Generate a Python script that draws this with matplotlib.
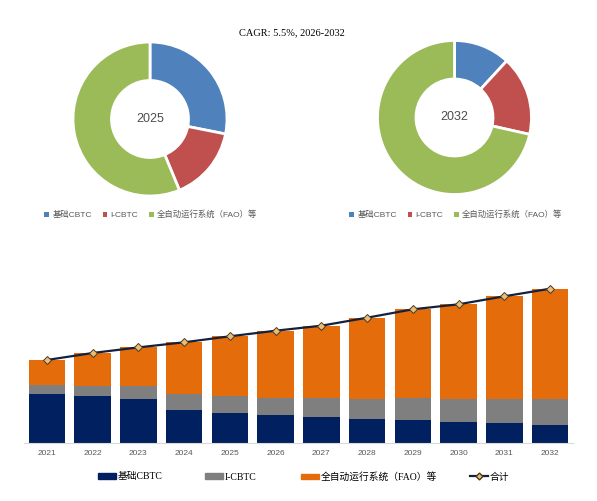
import matplotlib.pyplot as plt
from matplotlib.lines import Line2D
from matplotlib.patches import Patch

plt.rcParams['font.family'] = ['Liberation Sans', 'Noto Sans CJK SC']

years = ['2021', '2022', '2023', '2024', '2025', '2026',
         '2027', '2028', '2029', '2030', '2031', '2032']
base_cbtc = [49, 46.6, 44, 33, 30, 28.3, 26.3, 24.3, 23.3, 21.3, 20.3, 18.3]
i_cbtc = [9, 10.4, 13, 16, 16.7, 16.7, 18.7, 19.7, 21.7, 22.7, 23.7, 25.7]
fao = [25, 33, 38.6, 51.7, 60, 67.3, 72.3, 81.3, 88.7, 94.7, 102.7, 110.3]
total = [a + b + c for a, b, c in zip(base_cbtc, i_cbtc, fao)]

names = ['基础CBTC', 'I-CBTC', '全自动运行系统（FAO）等']
pie_colors = ['#4f81bd', '#c0504d', '#9bbb59']
bar_colors = ['#002060', '#7f7f7f', '#e46c0a']

W, H = 597, 501
fig = plt.figure(figsize=(W / 100, H / 100), dpi=100)

# two doughnuts: 2025 and 2032
for yr, cx, cy, lx in [('2025', 150, 119, 151), ('2032', 454.5, 117.5, 456)]:
    i = years.index(yr)
    r = 77
    ax = fig.add_axes([(cx - r) / W, 1 - (cy + r) / H, 2 * r / W, 2 * r / H])
    ax.pie([base_cbtc[i], i_cbtc[i], fao[i]], colors=pie_colors,
           startangle=90, counterclock=False, radius=1,
           wedgeprops=dict(width=0.5, edgecolor='white', linewidth=2))
    ax.set_xlim(-1, 1)
    ax.set_ylim(-1, 1)
    ax.set_aspect('equal')
    ax.text(0, 0, yr, ha='center', va='center', fontsize=9, color='#4d4d4d')
    pie_handles = [Patch(facecolor=c, edgecolor='none') for c in pie_colors]
    fig.legend(pie_handles, names, loc='center', bbox_to_anchor=(lx / W, 1 - 215 / H),
               ncol=3, frameon=False, fontsize=6, handlelength=0.55, handleheight=0.55,
               handletextpad=0.4, columnspacing=1.3, labelcolor='#595959')

fig.text(292 / W, 1 - 33 / H, 'CAGR: 5.5%, 2026-2032', ha='center', va='center',
         fontsize=7.5, family=['Liberation Serif', 'Noto Sans CJK SC'])

# stacked bars
ax = fig.add_axes([24 / W, 1 - 443 / H, (573 - 24) / W, 160 / H])
x = range(len(years))
ax.bar(x, base_cbtc, width=0.8, color=bar_colors[0])
ax.bar(x, i_cbtc, width=0.8, bottom=base_cbtc, color=bar_colors[1])
ax.bar(x, fao, width=0.8, bottom=[a + b for a, b in zip(base_cbtc, i_cbtc)],
       color=bar_colors[2])
ax.plot(x, total, color='#14213d', linewidth=1.6, marker='D', markersize=4,
        markerfacecolor='#e8bd7a', markeredgecolor='#4a3a20', markeredgewidth=0.7)
ax.set_xlim(-0.5, 11.5)
ax.set_ylim(0, 160)
ax.set_xticks(list(x))
ax.set_xticklabels(years, fontsize=6, color='#595959')
ax.tick_params(axis='x', length=0, pad=5)
ax.set_yticks([])
for s in ['top', 'right', 'left']:
    ax.spines[s].set_visible(False)
ax.spines['bottom'].set_color('#d9d9d9')

handles = [Patch(color=bar_colors[0]), Patch(color=bar_colors[1]),
           Patch(color=bar_colors[2]),
           Line2D([], [], color='#14213d', linewidth=1.6, marker='D', markersize=3.5,
                  markerfacecolor='#e8bd7a', markeredgecolor='#4a3a20')]
labels = names + ['合计']
for h, lab, lx in zip(handles, labels, [98, 205, 301, 470]):
    fig.legend([h], [lab], loc='center left', bbox_to_anchor=(lx / W, 1 - 477 / H),
               frameon=False, borderpad=0, borderaxespad=0, handlelength=1.8,
               handleheight=0.5, handletextpad=0.2,
               prop=dict(family=['Liberation Serif', 'Noto Sans CJK SC'], size=7))

fig.savefig('out.png', dpi=100, facecolor='white')
